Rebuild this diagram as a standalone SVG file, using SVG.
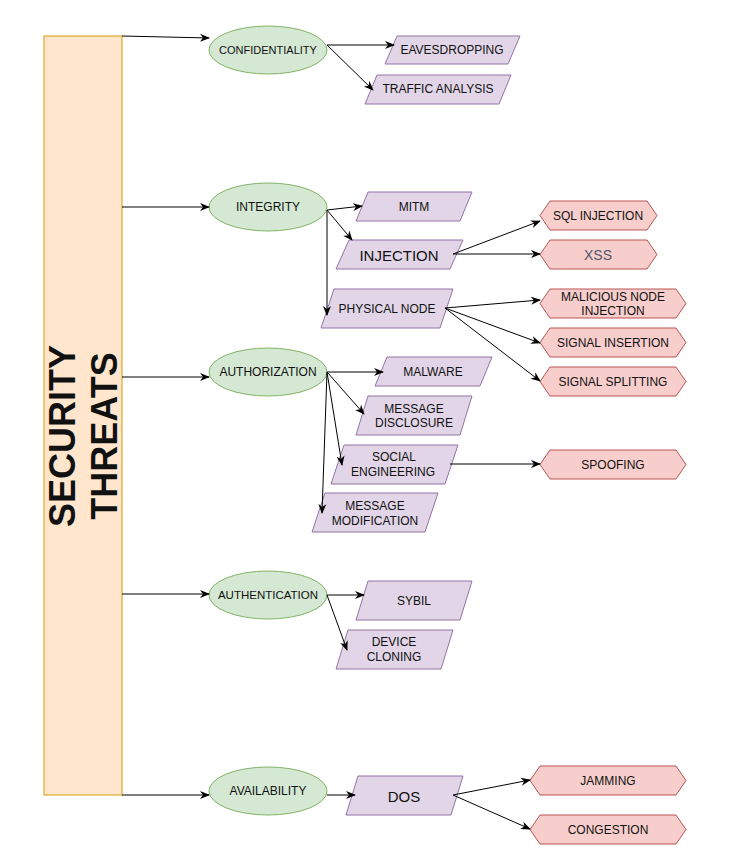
<svg xmlns="http://www.w3.org/2000/svg" width="740" height="858" viewBox="0 0 740 858">
<defs>
<marker id="a" markerWidth="10" markerHeight="10" refX="9" refY="5" orient="auto" markerUnits="userSpaceOnUse"><path d="M0,1 L10,5 L0,9 L3,5 Z" fill="#000"/></marker>
<style>
.e{fill:#d5e8d4;stroke:#82b366;stroke-width:1}
.p{fill:#e1d5e7;stroke:#9673a6;stroke-width:1}
.h{fill:#f8cecc;stroke:#b85450;stroke-width:1}
text{font-family:"Liberation Sans",Arial,sans-serif;font-size:12px;fill:#111;text-anchor:middle;dominant-baseline:central}
.c line{stroke:#000;stroke-width:1;marker-end:url(#a)}
</style>
</defs>
<rect width="740" height="858" fill="#fff"/>
<g id="security-threats"><rect x="44" y="36" width="78" height="759" fill="#ffe6cc" stroke="#d79b00"/>
<text transform="translate(62,436) rotate(-90)" style="font-size:36px;font-weight:bold">SECURITY</text>
<text transform="translate(104,436) rotate(-90)" style="font-size:36px;font-weight:bold">THREATS</text></g>
<g id="confidentiality"><ellipse class="e" cx="268" cy="50" rx="59" ry="24"/><text x="268" y="50" style="font-size:11px">CONFIDENTIALITY</text></g>
<g id="integrity"><ellipse class="e" cx="268" cy="207" rx="59" ry="24"/><text x="268" y="207">INTEGRITY</text></g>
<g id="authorization"><ellipse class="e" cx="268" cy="372" rx="59" ry="24"/><text x="268" y="372">AUTHORIZATION</text></g>
<g id="authentication"><ellipse class="e" cx="268" cy="595" rx="59" ry="24"/><text x="268" y="595" style="font-size:11.5px">AUTHENTICATION</text></g>
<g id="availability"><ellipse class="e" cx="268" cy="791" rx="59" ry="24"/><text x="268" y="791">AVAILABILITY</text></g>

<g id="eavesdropping"><polygon class="p" points="397,36 520,36 508,64 385,64"/><text x="452" y="50">EAVESDROPPING</text></g>
<g id="traffic-analysis"><polygon class="p" points="377,75 511,75 499,104 365,104"/><text x="438" y="89">TRAFFIC ANALYSIS</text></g>
<g id="mitm"><polygon class="p" points="368,192 472,192 460,221 356,221"/><text x="414" y="207">MITM</text></g>
<g id="injection"><polygon class="p" points="349,240 463,240 450,269 336,269"/><text x="399" y="255" style="font-size:15px">INJECTION</text></g>
<g id="physical-node"><polygon class="p" points="334,289 453,289 440,328 321,328"/><text x="387" y="309">PHYSICAL NODE</text></g>
<g id="malware"><polygon class="p" points="387,357 492,357 480,386 375,386"/><text x="433" y="372">MALWARE</text></g>
<g id="message-disclosure"><polygon class="p" points="368,396 472,396 460,435 356,435"/><text x="414" y="409">MESSAGE</text><text x="414" y="423">DISCLOSURE</text></g>
<g id="social-engineering"><polygon class="p" points="344,445 458,445 445,484 331,484"/><text x="394" y="457">SOCIAL</text><text x="393" y="472">ENGINEERING</text></g>
<g id="message-modification"><polygon class="p" points="325,493 438,493 425,532 312,532"/><text x="375" y="506">MESSAGE</text><text x="375" y="521">MODIFICATION</text></g>
<g id="sybil"><polygon class="p" points="368,581 472,581 460,620 356,620"/><text x="414" y="601">SYBIL</text></g>
<g id="device-cloning"><polygon class="p" points="348,630 453,630 441,669 336,669"/><text x="394" y="642">DEVICE</text><text x="394" y="657">CLONING</text></g>
<g id="dos"><polygon class="p" points="358,776 463,776 451,815 346,815"/><text x="404" y="796" style="font-size:15px">DOS</text></g>

<g id="sql-injection"><polygon class="h" points="550,201 647,201 657,215.5 647,230 550,230 540,215.5"/><text x="598" y="216">SQL INJECTION</text></g>
<g id="xss"><polygon class="h" points="550,240 647,240 657,254.5 647,269 550,269 540,254.5"/><text x="598" y="255" style="font-size:14px;fill:#4d5668">XSS</text></g>
<g id="malicious-node-injection"><polygon class="h" points="550,289 676,289 686,303.5 676,318 550,318 540,303.5"/><text x="613" y="297">MALICIOUS NODE</text><text x="613" y="311">INJECTION</text></g>
<g id="signal-insertion"><polygon class="h" points="550,328 676,328 686,342.5 676,357 550,357 540,342.5"/><text x="613" y="343">SIGNAL INSERTION</text></g>
<g id="signal-splitting"><polygon class="h" points="550,367 676,367 686,381.5 676,396 550,396 540,381.5"/><text x="613" y="382">SIGNAL SPLITTING</text></g>
<g id="spoofing"><polygon class="h" points="550,450 676,450 686,464.5 676,479 550,479 540,464.5"/><text x="613" y="465">SPOOFING</text></g>
<g id="jamming"><polygon class="h" points="540,766 676,766 686,780.5 676,795 540,795 530,780.5"/><text x="608" y="781">JAMMING</text></g>
<g id="congestion"><polygon class="h" points="540,815 676,815 686,829.5 676,844 540,844 530,829.5"/><text x="608" y="830">CONGESTION</text></g>

<g class="c" id="connectors">
<line x1="122" y1="36" x2="209" y2="38"/>
<line x1="122" y1="207" x2="209" y2="207"/>
<line x1="122" y1="377" x2="209" y2="377"/>
<line x1="122" y1="594" x2="209" y2="594"/>
<line x1="122" y1="795" x2="209" y2="795"/>
<line x1="327" y1="45" x2="394" y2="45"/>
<line x1="327" y1="45" x2="373" y2="90"/>
<line x1="327" y1="210" x2="362" y2="206"/>
<line x1="327" y1="210" x2="352" y2="240"/>
<line x1="327" y1="210" x2="327" y2="315"/>
<line x1="453" y1="254" x2="540" y2="221"/>
<line x1="453" y1="254" x2="540" y2="254"/>
<line x1="445" y1="308" x2="540" y2="300"/>
<line x1="445" y1="308" x2="540" y2="343"/>
<line x1="445" y1="308" x2="540" y2="381"/>
<line x1="327" y1="372" x2="383" y2="372"/>
<line x1="327" y1="372" x2="364" y2="414"/>
<line x1="327" y1="372" x2="342" y2="465"/>
<line x1="327" y1="372" x2="322" y2="513"/>
<line x1="450" y1="464" x2="540" y2="464"/>
<line x1="327" y1="595" x2="364" y2="595"/>
<line x1="327" y1="595" x2="347" y2="650"/>
<line x1="327" y1="795" x2="355" y2="795"/>
<line x1="453" y1="795" x2="530" y2="780"/>
<line x1="453" y1="795" x2="530" y2="829"/>
</g>
</svg>
